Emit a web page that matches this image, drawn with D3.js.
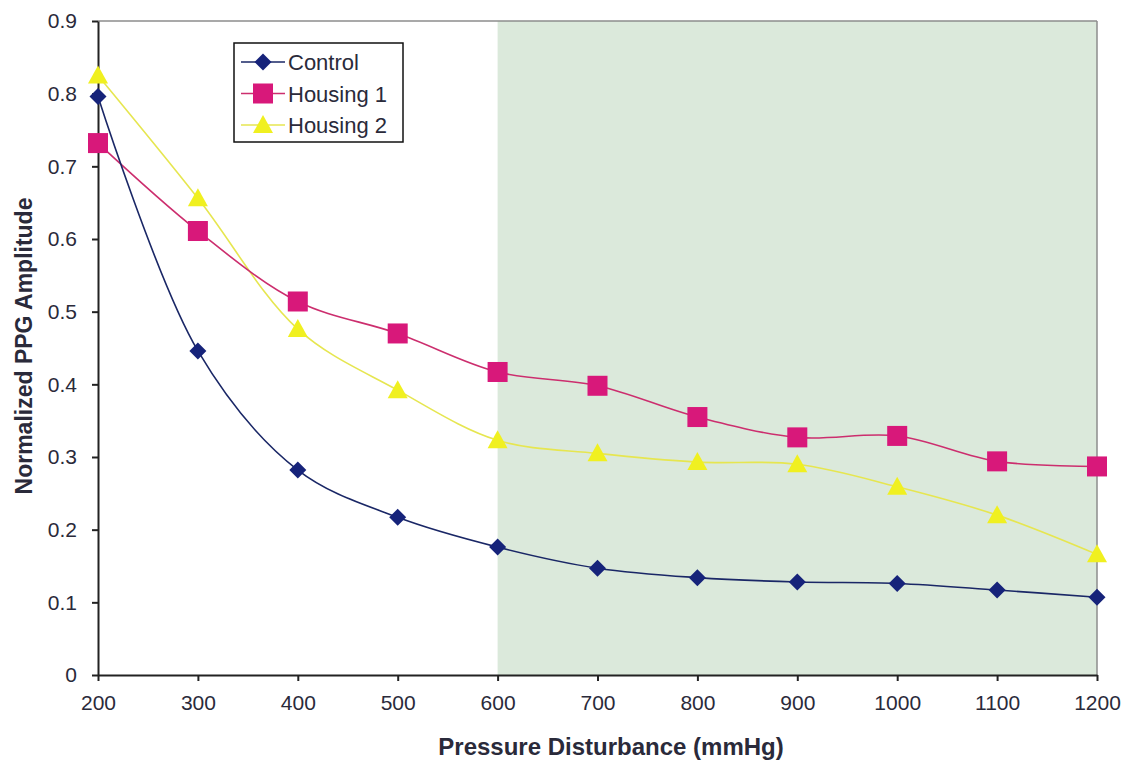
<!DOCTYPE html>
<html><head><meta charset="utf-8">
<script src="https://cdn.jsdelivr.net/npm/d3@7"></script>
<style>body{margin:0;background:#fff;} svg{display:block;font-family:"Liberation Sans",Arial,sans-serif;}</style>
</head><body><div id="chart"></div>
<script>
const pressures = [200,300,400,500,600,700,800,900,1000,1100,1200];
const control  = [0.796,0.446,0.282,0.217,0.176,0.147,0.134,0.128,0.126,0.117,0.107];
const housing1 = [0.732,0.611,0.514,0.470,0.417,0.398,0.355,0.327,0.329,0.294,0.287];
const housing2 = [0.825,0.656,0.476,0.392,0.323,0.305,0.293,0.290,0.259,0.220,0.166];
const seriesNames = ["Control","Housing 1","Housing 2"];
const yTicks = [0,0.1,0.2,0.3,0.4,0.5,0.6,0.7,0.8,0.9];
const xTicks = [200,300,400,500,600,700,800,900,1000,1100,1200];
const shadedRange = [600,1200];

const W=1127,H=762;
const m={l:98,r:30,t:21,b:87};
const svg=d3.select("#chart").append("svg").attr("width",W).attr("height",H);
const x=d3.scaleLinear().domain([200,1200]).range([m.l,W-m.r]);
const y=d3.scaleLinear().domain([0,0.9]).range([H-m.b,m.t]);

// shaded region
svg.append("rect").attr("x",x(shadedRange[0])).attr("y",y(0.9))
  .attr("width",x(shadedRange[1])-x(shadedRange[0])).attr("height",y(0)-y(0.9))
  .attr("fill","#dbe9db");
// plot border top/right
svg.append("line").attr("x1",x(200)).attr("x2",x(1200)).attr("y1",y(0.9)).attr("y2",y(0.9)).attr("stroke","#8c8c8c").attr("stroke-width",1.5);
svg.append("line").attr("x1",x(1200)).attr("x2",x(1200)).attr("y1",y(0.9)).attr("y2",y(0)).attr("stroke","#8c8c8c").attr("stroke-width",1.5);

const xa=svg.append("g").attr("transform",`translate(0,${y(0)})`)
  .call(d3.axisBottom(x).tickValues(xTicks).tickSize(6).tickSizeOuter(0).tickPadding(14).tickFormat(d3.format("d")));
const ya=svg.append("g").attr("transform",`translate(${x(200)},0)`)
  .call(d3.axisLeft(y).tickValues(yTicks).tickSize(6).tickSizeOuter(0).tickPadding(15).tickFormat(d=>d===0?"0":d3.format(".1f")(d)));
[xa,ya].forEach(a=>{a.select(".domain").attr("stroke","#222").attr("stroke-width",2);
  a.selectAll(".tick line").attr("stroke","#222").attr("stroke-width",2);
  a.selectAll(".tick text").attr("font-size",21).attr("fill","#2a2a3a").attr("font-family","Liberation Sans, Arial, sans-serif");});

const colors=["#16237a","#d8187a","#f0f020"];
const lineColors=["#1a2766","#cc2e6e","#e6e650"];
const data=[control,housing1,housing2];
const line=d3.line().x((d,i)=>x(pressures[i])).y(d=>y(d)).curve(d3.curveCatmullRom.alpha(0.5));

function marker(g,type,cx,cy,col){
  if(type===0){g.append("path").attr("d",`M${cx},${cy-8.5}L${cx+8.5},${cy}L${cx},${cy+8.5}L${cx-8.5},${cy}Z`).attr("fill",col);}
  else if(type===1){g.append("rect").attr("x",cx-10).attr("y",cy-10).attr("width",20).attr("height",20).attr("fill",col);}
  else {g.append("path").attr("d",`M${cx},${cy-10}L${cx+10},${cy+8}L${cx-10},${cy+8}Z`).attr("fill",col);}
}

[2,1,0].forEach(s=>{
  svg.append("path").datum(data[s]).attr("d",line).attr("fill","none").attr("stroke",lineColors[s]).attr("stroke-width",1.6);
});
[2,1,0].forEach(s=>{
  const g=svg.append("g");
  data[s].forEach((v,i)=>marker(g,s,x(pressures[i]),y(v),colors[s]));
});

// legend
const lg=svg.append("g");
lg.append("rect").attr("x",234).attr("y",43).attr("width",169).attr("height",99).attr("fill","#fff").attr("stroke","#111").attr("stroke-width",1.5);
seriesNames.forEach((n,i)=>{
  const cy=62+i*31.5;
  lg.append("line").attr("x1",241).attr("x2",285).attr("y1",cy).attr("y2",cy).attr("stroke",lineColors[i]).attr("stroke-width",1.6);
  marker(lg,i,263,cy,colors[i]);
  lg.append("text").attr("x",288).attr("y",cy+8).attr("font-size",22).attr("fill","#2a2a3a").text(n);
});

// axis titles
svg.append("text").attr("x",611).attr("y",755).attr("text-anchor","middle")
  .attr("font-size",24).attr("font-weight","bold").attr("fill","#2a2a3a").text("Pressure Disturbance (mmHg)");
svg.append("text").attr("transform",`translate(32,${346}) rotate(-90)`).attr("text-anchor","middle")
  .attr("font-size",23).attr("font-weight","bold").attr("fill","#2a2a3a").text("Normalized PPG Amplitude");
</script></body></html>
